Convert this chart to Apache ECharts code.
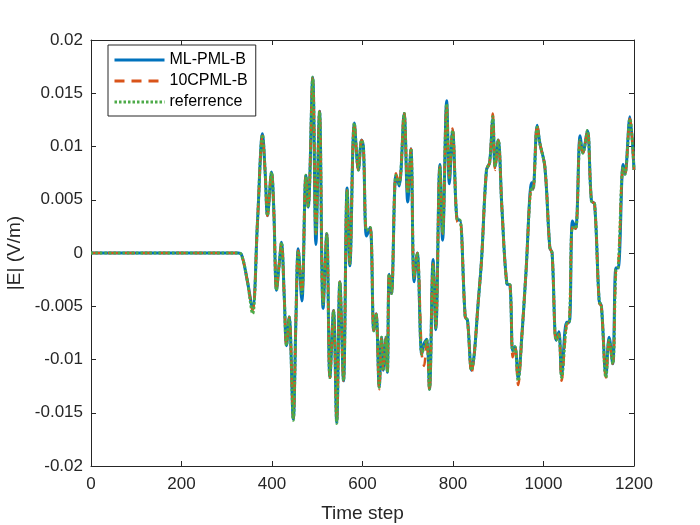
<!DOCTYPE html>
<html>
<head>
<meta charset="utf-8">
<script src="https://cdn.jsdelivr.net/npm/echarts@6/dist/echarts.min.js"></script>
<style>
  html, body { margin: 0; padding: 0; background: #fff; }
  #chart { width: 700px; height: 525px; }
</style>
</head>
<body>
<div id="chart"></div>
<script>
// time steps where the curves were read
var steps = [0, 300, 325, 333, 345, 357, 368, 379, 385, 390, 399, 404, 410, 416, 421, 427, 432, 438, 447, 453,
  458, 466, 475, 480, 490, 497, 505, 513, 521, 528, 536, 543, 550, 558, 566, 572, 582, 591, 598, 602,
  609, 617, 625, 630, 637, 642, 646, 652, 655, 659, 664, 674, 681, 692, 700, 707, 714, 721, 731, 736,
  742, 748, 756, 762, 771, 777, 786, 792, 799, 810, 815, 827, 832, 841, 847, 855, 863, 874, 881, 888,
  893, 900, 908, 919, 926, 932, 937, 944, 952, 961, 974, 977, 986, 992, 1003, 1014, 1019, 1028, 1034, 1040,
  1051, 1057, 1064, 1071, 1081, 1087, 1097, 1106, 1113, 1123, 1128, 1138, 1145, 1153, 1160, 1165, 1176, 1180, 1191, 1200];

var mlpmlValues = [0, 0, 0, -0.0002, -0.0025, -0.0052, 0.003, 0.0112, 0.0075, 0.0035, 0.0076, 0.004, -0.0035, -0.001, 0.001, -0.004, -0.0087, -0.006, -0.0156, -0.006,
  0.0004, -0.0045, 0.0073, 0.0043, 0.0165, 0.0008, 0.0133, -0.0052, 0.0018, -0.0117, -0.0054, -0.0159, -0.0027, -0.012, 0.0061, -0.0012, 0.0122, 0.0078, 0.0106, 0.0100,
  0.0016, 0.0024, -0.0073, -0.0057, -0.0126, -0.0079, -0.011, -0.0079, -0.0112, -0.002, -0.0038, 0.0073, 0.0063, 0.0131, 0.0048, 0.0098, -0.0027, 0, -0.0095, -0.0085,
  -0.0081, -0.0128, -0.0006, -0.0072, 0.0083, 0.0012, 0.0143, 0.0065, 0.0115, 0.0031, 0.0031, -0.006, -0.0063, -0.011, -0.0095, -0.005, -0.0007, 0.0078, 0.0085, 0.0126,
  0.0081, 0.0106, 0.0043, -0.0029, -0.003, -0.0092, -0.0088, -0.0118, -0.0079, -0.002, 0.0066, 0.0060, 0.0120, 0.0103, 0.0081, 0.0005, 0, -0.0082, -0.0074, -0.0115,
  -0.0065, -0.0065, 0.0030, 0.0023, 0.0110, 0.0094, 0.0115, 0.0049, 0.0046, -0.0045, -0.005, -0.0115, -0.0079, -0.0104, -0.0014, -0.0014, 0.0083, 0.0074, 0.0128, 0.0078];

var cpmlValues = [0, 0, 0, -0.0002, -0.0025, -0.0054, 0.003, 0.0110, 0.0075, 0.0035, 0.0076, 0.004, -0.0035, -0.001, 0.001, -0.004, -0.0087, -0.006, -0.0155, -0.006,
  0.0002, -0.0038, 0.0073, 0.0043, 0.0164, 0.0018, 0.0133, -0.0048, 0.0018, -0.0117, -0.0054, -0.0158, -0.0027, -0.012, 0.0059, -0.001, 0.0122, 0.0078, 0.0106, 0.0100,
  0.0021, 0.0024, -0.0073, -0.0057, -0.0128, -0.0079, -0.011, -0.0079, -0.0114, -0.0018, -0.0038, 0.0075, 0.0065, 0.0132, 0.0056, 0.0098, -0.0023, 0, -0.0095, -0.0106,
  -0.0081, -0.0130, -0.001, -0.007, 0.0081, 0.0018, 0.0138, 0.0071, 0.0117, 0.0029, 0.0031, -0.006, -0.0063, -0.0113, -0.0095, -0.005, -0.0007, 0.0078, 0.0085, 0.0131,
  0.0078, 0.0106, 0.0043, -0.0029, -0.003, -0.0098, -0.0088, -0.0124, -0.0079, -0.002, 0.0062, 0.0060, 0.0121, 0.0103, 0.0081, 0.0005, 0, -0.0084, -0.0076, -0.0120,
  -0.0067, -0.0065, 0.0024, 0.0023, 0.0106, 0.0094, 0.0115, 0.0049, 0.0046, -0.0047, -0.005, -0.0117, -0.0082, -0.0104, -0.0016, -0.0014, 0.0079, 0.0074, 0.0126, 0.0078];

var refValues = [0, 0, 0, -0.0002, -0.0025, -0.0057, 0.003, 0.0111, 0.0075, 0.0035, 0.0076, 0.004, -0.0035, -0.001, 0.001, -0.004, -0.0087, -0.006, -0.0157, -0.006,
  0.0002, -0.0038, 0.0073, 0.0043, 0.0165, 0.0018, 0.0133, -0.0048, 0.0018, -0.0117, -0.0054, -0.0160, -0.0027, -0.012, 0.0059, -0.001, 0.0122, 0.0078, 0.0106, 0.0100,
  0.0021, 0.0024, -0.0073, -0.0057, -0.0126, -0.0079, -0.011, -0.0079, -0.0112, -0.002, -0.0038, 0.0073, 0.0065, 0.0131, 0.0056, 0.0098, -0.0023, 0, -0.0095, -0.0088,
  -0.0081, -0.0128, -0.001, -0.007, 0.0081, 0.0018, 0.0140, 0.0071, 0.0115, 0.0031, 0.0031, -0.006, -0.0063, -0.011, -0.0095, -0.005, -0.0007, 0.0078, 0.0085, 0.0128,
  0.0081, 0.0106, 0.0043, -0.0029, -0.003, -0.0092, -0.0088, -0.012, -0.0079, -0.002, 0.0062, 0.0060, 0.0118, 0.0103, 0.0081, 0.0005, 0, -0.0082, -0.0076, -0.0117,
  -0.0067, -0.0065, 0.0024, 0.0023, 0.0106, 0.0094, 0.0115, 0.0049, 0.0046, -0.0045, -0.005, -0.0117, -0.0082, -0.0104, -0.0016, -0.0014, 0.0081, 0.0074, 0.0126, 0.0078];

var seriesNames = ['ML-PML-B', '10CPML-B', 'referrence'];

function pairs(vals) {
  return steps.map(function (s, i) { return [s, vals[i]]; });
}

var myChart = echarts.init(document.getElementById('chart'));
var font = 'Liberation Sans, Arial, Helvetica, sans-serif';
var axisCol = '#262626';

var option = {
  animation: false,
  backgroundColor: '#fff',
  textStyle: { fontFamily: font },
  grid: { left: 91, right: 66, top: 40, bottom: 59, containLabel: false, outerBoundsMode: 'none' },
  legend: {
    orient: 'vertical',
    left: 108,
    top: 45,
    padding: [7, 8, 6, 5],
    itemGap: 5,
    itemWidth: 50,
    itemHeight: 16,
    itemTextGap: 4,
    borderColor: axisCol,
    borderWidth: 1,
    backgroundColor: '#fff',
    itemStyle: { opacity: 0 },
    lineStyle: { width: 3 },
    textStyle: { fontSize: 16, color: '#000', fontFamily: font },
    data: seriesNames
  },
  xAxis: [{
    type: 'value',
    min: 0, max: 1200, interval: 200,
    name: 'Time step',
    nameLocation: 'middle',
    nameGap: 38,
    nameTextStyle: { fontSize: 19, color: '#262626' },
    axisLine: { onZero: false, lineStyle: { color: axisCol, width: 1 } },
    axisTick: { inside: true, length: 5, lineStyle: { color: axisCol } },
    axisLabel: { fontSize: 17, color: '#262626', margin: 10, formatter: function (v) { return String(v); } },
    splitLine: { show: false }
  }, {
    type: 'value',
    position: 'top',
    min: 0, max: 1200, interval: 200,
    axisLine: { show: true, onZero: false, lineStyle: { color: axisCol, width: 1 } },
    axisTick: { show: true, inside: true, length: 5, lineStyle: { color: axisCol } },
    axisLabel: { show: false },
    splitLine: { show: false }
  }],
  yAxis: [{
    type: 'value',
    min: -0.02, max: 0.02, interval: 0.005,
    name: '|E| (V/m)',
    nameLocation: 'middle',
    nameGap: 59,
    nameRotate: 90,
    nameTextStyle: { fontSize: 19, color: '#262626' },
    axisLine: { show: true, onZero: false, lineStyle: { color: axisCol, width: 1 } },
    axisTick: { show: true, inside: true, length: 5, lineStyle: { color: axisCol } },
    axisLabel: {
      fontSize: 17, color: '#262626', margin: 8,
      formatter: function (v) { return String(parseFloat(v.toFixed(3))); }
    },
    splitLine: { show: false }
  }, {
    type: 'value',
    position: 'right',
    min: -0.02, max: 0.02, interval: 0.005,
    axisLine: { show: true, onZero: false, lineStyle: { color: axisCol, width: 1 } },
    axisTick: { show: true, inside: true, length: 5, lineStyle: { color: axisCol } },
    axisLabel: { show: false },
    splitLine: { show: false }
  }],
  series: [{
    name: seriesNames[0],
    type: 'line',
    symbol: 'none',
    smooth: 0.35,
    color: '#0072BD',
    lineStyle: { width: 3, color: '#0072BD' },
    data: pairs(mlpmlValues)
  }, {
    name: seriesNames[1],
    type: 'line',
    symbol: 'none',
    smooth: 0.35,
    color: '#D95319',
    lineStyle: { width: 2.5, type: [10, 7], color: '#D95319' },
    data: pairs(cpmlValues)
  }, {
    name: seriesNames[2],
    type: 'line',
    symbol: 'none',
    smooth: 0.35,
    color: '#4DAA48',
    lineStyle: { width: 3, type: [2.5, 2], color: '#4DAA48' },
    data: pairs(refValues)
  }]
};

myChart.setOption(option);
</script>
</body>
</html>
